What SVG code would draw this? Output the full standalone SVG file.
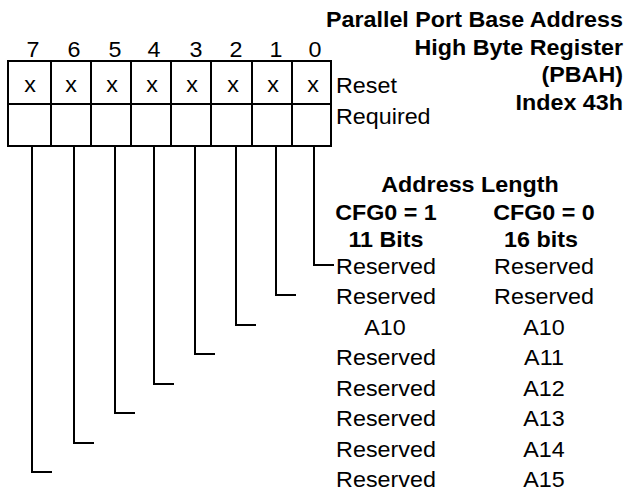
<svg xmlns="http://www.w3.org/2000/svg" width="628" height="497" viewBox="0 0 628 497">
<style>
text{font-family:"Liberation Sans",Arial,sans-serif;font-size:22px;fill:#000}
.b{font-weight:bold}
.m{text-anchor:middle}
.e{text-anchor:end}
.ln{stroke:#000;stroke-width:2;fill:none}
</style>
<rect width="628" height="497" fill="#fff"/>
<g id="register">
<rect x="8" y="61" width="323" height="85" class="ln" stroke-width="2.5"/>
<path class="ln" d="M8 104H331M51 61V146M91 61V146M131 61V146M171 61V146M211 61V146M252 61V146M292 61V146"/>
</g>
<g id="connectors">
<path class="ln" d="M314 146V265H334M276 146V295H296M236 146V325H256M195 146V354H215M154 146V384H174M115 146V413H135M74 146V443H94M32 146V472H52"/>
</g>
<g transform="scale(1.06,1)">
<g id="bit-numbers">
<text x="31.13" y="57" class="m">7</text>
<text x="69.81" y="57" class="m">6</text>
<text x="108.49" y="57" class="m">5</text>
<text x="145.28" y="57" class="m">4</text>
<text x="184.91" y="57" class="m">3</text>
<text x="222.64" y="57" class="m">2</text>
<text x="260.38" y="57" class="m">1</text>
<text x="297.17" y="57" class="m">0</text>
</g>
<g id="reset-values">
<text x="28.3" y="92" class="m">x</text>
<text x="66.98" y="92" class="m">x</text>
<text x="105.66" y="92" class="m">x</text>
<text x="143.4" y="92" class="m">x</text>
<text x="181.13" y="92" class="m">x</text>
<text x="219.81" y="92" class="m">x</text>
<text x="257.55" y="92" class="m">x</text>
<text x="295.28" y="92" class="m">x</text>
</g>
<g id="row-labels">
<text x="316.98" y="93">Reset</text>
<text x="316.98" y="124">Required</text>
</g>
<g id="title">
<text x="587.74" y="27" class="b e">Parallel Port Base Address</text>
<text x="587.74" y="55" class="b e">High Byte Register</text>
<text x="587.74" y="82" class="b e">(PBAH)</text>
<text x="587.74" y="110" class="b e">Index 43h</text>
</g>
<g id="table-header">
<text x="443.4" y="192" class="b m">Address Length</text>
<text x="364.15" y="220" class="b m">CFG0 = 1</text>
<text x="513.2" y="220" class="b m">CFG0 = 0</text>
<text x="364.15" y="247" class="b m">11 Bits</text>
<text x="510.4" y="247" class="b m">16 bits</text>
</g>
<g id="col-11bits">
<text x="364.15" y="274" class="m">Reserved</text>
<text x="364.15" y="304.5" class="m">Reserved</text>
<text x="363.2" y="335" class="m">A10</text>
<text x="364.15" y="365.5" class="m">Reserved</text>
<text x="364.15" y="396" class="m">Reserved</text>
<text x="364.15" y="426.5" class="m">Reserved</text>
<text x="364.15" y="457" class="m">Reserved</text>
<text x="364.15" y="487.5" class="m">Reserved</text>
</g>
<g id="col-16bits">
<text x="513.2" y="274" class="m">Reserved</text>
<text x="513.2" y="304.5" class="m">Reserved</text>
<text x="513.2" y="335" class="m">A10</text>
<text x="513.2" y="365.5" class="m">A11</text>
<text x="513.2" y="396" class="m">A12</text>
<text x="513.2" y="426.5" class="m">A13</text>
<text x="513.2" y="457" class="m">A14</text>
<text x="513.2" y="487.5" class="m">A15</text>
</g>
</g>
</svg>
